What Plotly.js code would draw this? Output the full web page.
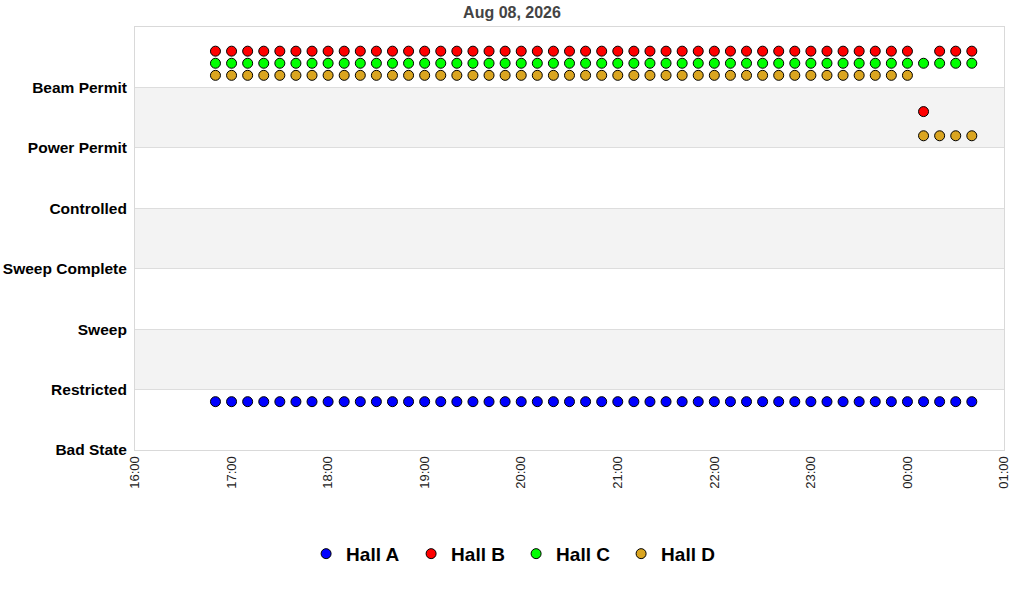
<!DOCTYPE html>
<html>
<head>
<meta charset="utf-8">
<script src="https://cdn.plot.ly/plotly-3.0.1.min.js"></script>
<style>
  html, body { margin: 0; padding: 0; background: #ffffff; }
  #plot { width: 1024px; height: 600px; }
</style>
</head>
<body>
<div id="plot"></div>
<script>

// State names, bottom to top
let states = ["Bad State", "Restricted", "Sweep", "Sweep Complete", "Controlled", "Power Permit", "Beam Permit"];

// Sample times (every 10 min)
let times = [
  "2026-08-08 16:50", "2026-08-08 17:00", "2026-08-08 17:10", "2026-08-08 17:20", "2026-08-08 17:30", "2026-08-08 17:40",
  "2026-08-08 17:50", "2026-08-08 18:00", "2026-08-08 18:10", "2026-08-08 18:20", "2026-08-08 18:30", "2026-08-08 18:40",
  "2026-08-08 18:50", "2026-08-08 19:00", "2026-08-08 19:10", "2026-08-08 19:20", "2026-08-08 19:30", "2026-08-08 19:40",
  "2026-08-08 19:50", "2026-08-08 20:00", "2026-08-08 20:10", "2026-08-08 20:20", "2026-08-08 20:30", "2026-08-08 20:40",
  "2026-08-08 20:50", "2026-08-08 21:00", "2026-08-08 21:10", "2026-08-08 21:20", "2026-08-08 21:30", "2026-08-08 21:40",
  "2026-08-08 21:50", "2026-08-08 22:00", "2026-08-08 22:10", "2026-08-08 22:20", "2026-08-08 22:30", "2026-08-08 22:40",
  "2026-08-08 22:50", "2026-08-08 23:00", "2026-08-08 23:10", "2026-08-08 23:20", "2026-08-08 23:30", "2026-08-08 23:40",
  "2026-08-08 23:50", "2026-08-09 00:00", "2026-08-09 00:10", "2026-08-09 00:20", "2026-08-09 00:30", "2026-08-09 00:40"
];

// Plotted levels per hall
let hall_a = [
  0.8, 0.8, 0.8, 0.8, 0.8, 0.8, 0.8, 0.8, 0.8, 0.8, 0.8, 0.8,
  0.8, 0.8, 0.8, 0.8, 0.8, 0.8, 0.8, 0.8, 0.8, 0.8, 0.8, 0.8,
  0.8, 0.8, 0.8, 0.8, 0.8, 0.8, 0.8, 0.8, 0.8, 0.8, 0.8, 0.8,
  0.8, 0.8, 0.8, 0.8, 0.8, 0.8, 0.8, 0.8, 0.8, 0.8, 0.8, 0.8
];
let hall_b = [
  6.6, 6.6, 6.6, 6.6, 6.6, 6.6, 6.6, 6.6, 6.6, 6.6, 6.6, 6.6,
  6.6, 6.6, 6.6, 6.6, 6.6, 6.6, 6.6, 6.6, 6.6, 6.6, 6.6, 6.6,
  6.6, 6.6, 6.6, 6.6, 6.6, 6.6, 6.6, 6.6, 6.6, 6.6, 6.6, 6.6,
  6.6, 6.6, 6.6, 6.6, 6.6, 6.6, 6.6, 6.6, 5.6, 6.6, 6.6, 6.6
];
let hall_c = [
  6.4, 6.4, 6.4, 6.4, 6.4, 6.4, 6.4, 6.4, 6.4, 6.4, 6.4, 6.4,
  6.4, 6.4, 6.4, 6.4, 6.4, 6.4, 6.4, 6.4, 6.4, 6.4, 6.4, 6.4,
  6.4, 6.4, 6.4, 6.4, 6.4, 6.4, 6.4, 6.4, 6.4, 6.4, 6.4, 6.4,
  6.4, 6.4, 6.4, 6.4, 6.4, 6.4, 6.4, 6.4, 6.4, 6.4, 6.4, 6.4
];
let hall_d = [
  6.2, 6.2, 6.2, 6.2, 6.2, 6.2, 6.2, 6.2, 6.2, 6.2, 6.2, 6.2,
  6.2, 6.2, 6.2, 6.2, 6.2, 6.2, 6.2, 6.2, 6.2, 6.2, 6.2, 6.2,
  6.2, 6.2, 6.2, 6.2, 6.2, 6.2, 6.2, 6.2, 6.2, 6.2, 6.2, 6.2,
  6.2, 6.2, 6.2, 6.2, 6.2, 6.2, 6.2, 6.2, 5.2, 5.2, 5.2, 5.2
];

let hall_names = ["Hall A", "Hall B", "Hall C", "Hall D"];
let hall_cols = ["#0000ff", "#ff0000", "#00ff00", "#daa520"];
let hall_vals = [hall_a, hall_b, hall_c, hall_d];

let fam = "'Liberation Sans', Arial, sans-serif";

// One marker trace per hall
let data = hall_names.map((name, i) => {
  return({
    x: times,
    y: hall_vals[i],
    name: name,
    type: "scatter",
    mode: "markers",
    marker: {
      symbol: "circle",
      size: 10,
      color: hall_cols[i],
      line: { color: "#000000", width: 1 }
    },
    hoverinfo: "x+name"
  });
});

// Shade every other state band
let bands = [];
for (let i = 1; i < states.length; i += 2) {
  bands.push({
    type: "rect",
    xref: "paper",
    yref: "y",
    x0: 0,
    x1: 1,
    y0: i,
    y1: i + 1,
    fillcolor: "#f3f3f3",
    line: { width: 0 },
    layer: "below"
  });
}

let layout = {
  width: 1024,
  height: 600,
  paper_bgcolor: "#ffffff",
  plot_bgcolor: "#ffffff",
  font: { family: fam, color: "#000000" },
  title: {
    text: "Aug 08, 2026",
    font: { family: fam, size: 16, color: "#444444", weight: "bold" },
    xref: "container",
    x: 0.5,
    xanchor: "center",
    yref: "container",
    y: 0.98,
    yanchor: "middle"
  },
  xaxis: {
    type: "date",
    range: ["2026-08-08 16:00", "2026-08-09 01:00"],
    dtick: 3600000,
    tick0: "2026-08-08 16:00",
    tickformat: "%H:%M",
    tickangle: -90,
    tickfont: { family: fam, size: 13, color: "#222222" },
    ticks: "",
    showgrid: false,
    zeroline: false,
    showline: true,
    mirror: true,
    linecolor: "#d9d9d9",
    linewidth: 1,
    fixedrange: true
  },
  yaxis: {
    range: [0, 7],
    tickmode: "array",
    tickvals: states.map((s, i) => i),
    ticktext: states,
    tickfont: { family: fam, size: 15.5, color: "#000000", weight: "bold" },
    ticks: "",
    ticklabelstandoff: 4,
    showgrid: true,
    gridcolor: "#dddddd",
    zeroline: false,
    showline: true,
    mirror: true,
    linecolor: "#d9d9d9",
    linewidth: 1,
    fixedrange: true
  },
  shapes: bands,
  showlegend: true,
  legend: {
    orientation: "h",
    xref: "container",
    x: 0.504,
    xanchor: "center",
    yref: "container",
    y: 0.077,
    yanchor: "middle",
    entrywidth: 60,
    font: { family: fam, size: 19, color: "#000000", weight: "bold" },
    itemclick: false,
    itemdoubleclick: false
  },
  margin: { l: 135, r: 20, t: 27, b: 150 }
};

Plotly.newPlot("plot", data, layout, { displayModeBar: false, staticPlot: true });

</script>
</body>
</html>
